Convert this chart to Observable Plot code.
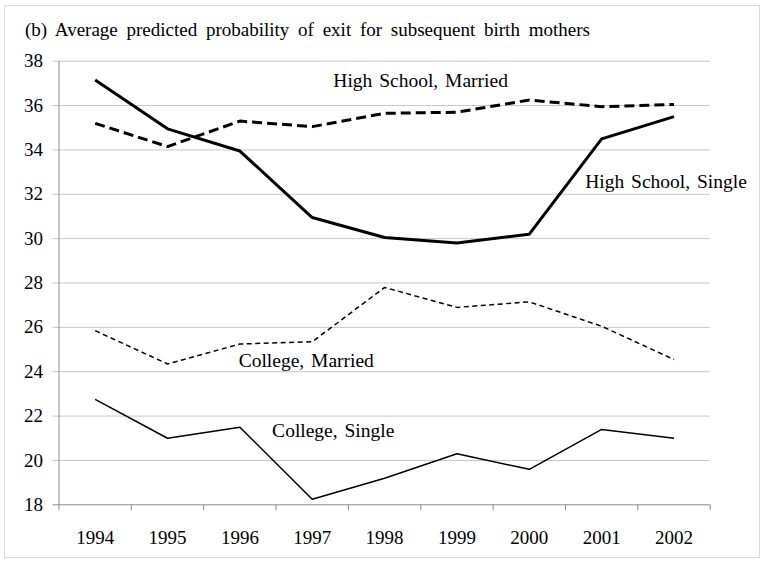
<!DOCTYPE html>
<html>
<head>
<meta charset="utf-8">
<script src="https://cdn.jsdelivr.net/npm/d3@7"></script>
<script src="https://cdn.jsdelivr.net/npm/@observablehq/plot@0.6"></script>
<style>
  html, body { margin: 0; padding: 0; background: #fff; }
  body { width: 767px; height: 561px; position: relative; overflow: hidden; font-family: "Liberation Serif", "Times New Roman", serif; }
  #frame { position: absolute; left: 4px; top: 5px; width: 756px; height: 553px; border: 1.5px solid #d9d9d9; box-sizing: border-box; }
  #title { position: absolute; left: 25px; top: 19px; font-size: 19px; line-height: 22px; color: #000; white-space: nowrap; word-spacing: 4px; }
  #chart { position: absolute; left: 0; top: 40px; }
</style>
</head>
<body>
<div id="frame"></div>
<div id="title">(b) Average predicted probability of exit for subsequent birth mothers</div>
<div id="chart"></div>
<script>
const years = [1994, 1995, 1996, 1997, 1998, 1999, 2000, 2001, 2002];
const highSchoolSingle  = [37.15, 34.95, 33.95, 30.95, 30.05, 29.8, 30.2, 34.5, 35.5];
const highSchoolMarried = [35.2, 34.15, 35.3, 35.05, 35.65, 35.7, 36.25, 35.95, 36.05];
const collegeMarried    = [25.85, 24.35, 25.25, 25.35, 27.8, 26.9, 27.15, 26.05, 24.55];
const collegeSingle     = [22.75, 21.0, 21.5, 18.25, 19.2, 20.3, 19.6, 21.4, 21.0];
const yTicks = [18, 20, 22, 24, 26, 28, 30, 32, 34, 36, 38];
const seriesNames = ["High School, Single", "High School, Married", "College, Married", "College, Single"];
// label anchors in data space (year, value)
const labelYears  = [2002, 1998, 1997, 1997];
const labelValues = [32.55, 37.1, 24.5, 21.35];

const seriesValues = [highSchoolSingle, highSchoolMarried, collegeMarried, collegeSingle];
const styles = [
  {strokeWidth: 3, dash: null},
  {strokeWidth: 3, dash: "10,5"},
  {strokeWidth: 1.5, dash: "5,3.5"},
  {strokeWidth: 1.5, dash: null}
];
const labelDx = [-8, 36, -6, 21];

const rows = seriesNames.flatMap((s, i) => years.map((y, j) => ({series: s, year: y, value: seriesValues[i][j]})));
const labels = seriesNames.map((s, i) => ({series: s, year: labelYears[i], value: labelValues[i]}));

const boundaries = d3.range(years[0] - 0.5, years[years.length - 1] + 1, 1);

const lineMarks = seriesNames.map((s, i) => Plot.line(rows.filter(d => d.series === s), {
  x: "year", y: "value", stroke: "#000", strokeWidth: styles[i].strokeWidth,
  strokeDasharray: styles[i].dash, strokeLinejoin: "miter", strokeLinecap: "butt"
}));

const textMarks = labels.map((d, i) => Plot.text([d], {
  x: "year", y: "value", text: "series", dx: labelDx[i], fontSize: 19.5, fill: "#000", textAnchor: "middle"
}));

const chart = Plot.plot({
  width: 767,
  height: 521,
  marginLeft: 58.5,
  marginRight: 57.3,
  marginTop: 20.7,
  marginBottom: 56.7,
  style: {fontFamily: "'Liberation Serif', 'Times New Roman', serif", background: "transparent", color: "#000", wordSpacing: "2px"},
  x: {type: "linear", domain: [years[0] - 0.5, years[years.length - 1] + 0.5], label: null},
  y: {domain: [18, 38], label: null},
  marks: [
    Plot.ruleY(yTicks.slice(1), {y: d => d, stroke: "#c6c6c6", strokeWidth: 1, insetLeft: -6, strokeOpacity: 1}),
    Plot.ruleY([18], {stroke: "#8c8c8c", strokeWidth: 1, insetLeft: -6}),
    Plot.ruleX([years[0] - 0.5], {y1: 18, y2: 38, stroke: "#8c8c8c", strokeWidth: 1}),
    Plot.axisX({ticks: boundaries, tickSize: 6, tickFormat: () => "", stroke: "#8c8c8c", strokeOpacity: 1, label: null}),
    Plot.axisX({ticks: years, tickSize: 0, tickPadding: 26, tickFormat: d => String(d), fontSize: 19, fill: "#000", label: null}),
    Plot.axisY({ticks: yTicks, tickSize: 0, tickPadding: 16, fontSize: 19, fill: "#000", label: null}),
    ...lineMarks,
    ...textMarks
  ]
});
document.getElementById("chart").appendChild(chart);
</script>
</body>
</html>
